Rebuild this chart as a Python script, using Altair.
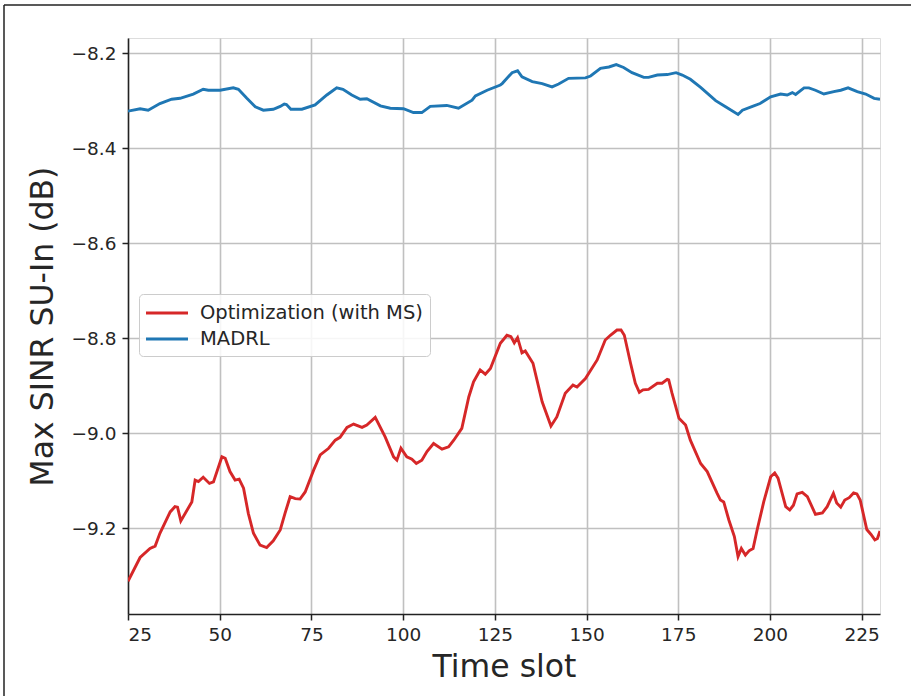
import altair as alt
import pandas as pd

# ---- data ----
opt_t = [25.0, 28.3, 31.0, 32.4, 33.7, 36.5, 37.8, 38.5, 39.4, 42.4, 43.3, 44.2, 45.5, 47.2,
         48.3, 50.6, 51.5, 52.8, 54.2, 55.3, 56.5, 57.8, 59.2, 61.0, 62.8, 64.6, 66.5, 67.8,
         69.2, 70.6, 71.9, 73.3, 75.6, 77.4, 79.7, 81.5, 82.8, 84.7, 86.5, 88.8, 90.1, 92.4,
         95.1, 97.4, 98.3, 99.4, 101.0, 102.4, 103.6, 105.1, 106.5, 108.3, 110.6, 112.4,
         113.8, 116.0, 117.9, 119.2, 121.0, 122.4, 123.8, 126.5, 128.3, 129.4, 130.3, 131.2,
         132.4, 133.3, 135.4, 137.9, 140.3, 141.9, 144.2, 146.3, 147.4, 149.7, 152.9, 155.1,
         156.5, 158.3, 159.4, 160.3, 162.0, 163.3, 164.4, 165.4, 166.9, 169.3, 170.6, 172.0,
         172.4, 173.3, 175.2, 177.0, 178.3, 181.1, 182.9, 185.6, 186.5, 187.4, 188.8, 190.3,
         191.3, 192.2, 193.3, 194.3, 195.4, 196.5, 198.3, 200.2, 201.3, 202.2, 204.3, 205.4,
         206.4, 207.4, 208.8, 210.2, 212.4, 214.3, 215.6, 217.3, 218.2, 219.3, 220.4, 221.6,
         222.8, 223.7, 224.6, 226.4, 227.5, 228.6, 229.3, 230.0]
opt_v = [-9.312, -9.262, -9.243, -9.238, -9.211, -9.166, -9.155, -9.156, -9.185, -9.145,
         -9.099, -9.102, -9.093, -9.106, -9.103, -9.050, -9.053, -9.081, -9.099, -9.097,
         -9.116, -9.169, -9.211, -9.236, -9.241, -9.227, -9.204, -9.169, -9.134, -9.138,
         -9.139, -9.124, -9.078, -9.046, -9.032, -9.015, -9.009, -8.988, -8.981, -8.988,
         -8.983, -8.967, -9.008, -9.050, -9.057, -9.032, -9.050, -9.055, -9.064, -9.057,
         -9.039, -9.022, -9.034, -9.029, -9.015, -8.990, -8.924, -8.892, -8.867, -8.876,
         -8.864, -8.811, -8.794, -8.797, -8.810, -8.799, -8.831, -8.827, -8.853, -8.934,
         -8.985, -8.966, -8.916, -8.899, -8.903, -8.885, -8.846, -8.804, -8.794, -8.783,
         -8.783, -8.794, -8.853, -8.895, -8.914, -8.909, -8.908, -8.895, -8.895, -8.887,
         -8.888, -8.916, -8.969, -8.983, -9.015, -9.064, -9.081, -9.127, -9.141, -9.145,
         -9.183, -9.218, -9.260, -9.243, -9.257, -9.248, -9.243, -9.204, -9.145, -9.092,
         -9.084, -9.095, -9.155, -9.162, -9.152, -9.128, -9.125, -9.134, -9.171, -9.168,
         -9.155, -9.127, -9.147, -9.156, -9.141, -9.136, -9.126, -9.128, -9.141, -9.203,
         -9.213, -9.225, -9.222, -9.206]

madrl_t = [25.0, 28.3, 30.5, 33.7, 36.9, 39.2, 42.8, 45.5, 46.9, 50.1, 53.7, 55.1, 57.4,
           59.7, 61.9, 64.6, 66.5, 67.6, 68.2, 69.4, 72.4, 76.0, 79.2, 81.9, 83.6, 86.0,
           88.3, 90.1, 93.8, 96.5, 100.1, 102.8, 105.1, 107.4, 111.9, 115.1, 118.8, 119.7,
           122.9, 126.5, 127.0, 129.7, 131.2, 132.4, 135.2, 137.9, 140.6, 142.4, 145.1,
           149.7, 151.1, 153.8, 156.1, 158.1, 160.1, 162.4, 165.6, 166.9, 169.3, 172.0,
           174.4, 176.1, 178.3, 181.1, 185.2, 187.9, 191.3, 192.5, 195.6, 197.3, 200.2,
           202.9, 204.7, 206.1, 207.0, 209.3, 210.6, 212.4, 214.7, 217.4, 219.3, 221.3,
           223.8, 226.1, 228.4, 230.0]
madrl_v = [-8.322, -8.317, -8.320, -8.306, -8.297, -8.295, -8.286, -8.276, -8.278, -8.278,
           -8.273, -8.276, -8.295, -8.313, -8.320, -8.318, -8.312, -8.307, -8.308, -8.318,
           -8.318, -8.309, -8.288, -8.273, -8.276, -8.288, -8.297, -8.296, -8.311, -8.316,
           -8.317, -8.325, -8.325, -8.312, -8.310, -8.316, -8.299, -8.290, -8.278, -8.267,
           -8.264, -8.241, -8.237, -8.250, -8.260, -8.264, -8.271, -8.265, -8.253, -8.252,
           -8.248, -8.232, -8.229, -8.224, -8.230, -8.241, -8.251, -8.251, -8.246, -8.245,
           -8.241, -8.246, -8.255, -8.272, -8.300, -8.313, -8.329, -8.320, -8.311, -8.306,
           -8.292, -8.286, -8.288, -8.283, -8.287, -8.273, -8.273, -8.278, -8.286, -8.281,
           -8.278, -8.273, -8.281, -8.286, -8.295, -8.297]

series_names = ["Optimization (with MS)", "MADRL"]
series_colors = ["#d62728", "#1f77b4"]
x_ticks = [25, 50, 75, 100, 125, 150, 175, 200, 225]
y_ticks = [-8.2, -8.4, -8.6, -8.8, -9.0, -9.2]
x_domain = [25, 230]
y_domain = [-9.381, -8.168]

df = pd.concat([
    pd.DataFrame({"t": opt_t, "v": opt_v, "series": series_names[0], "order": 0}),
    pd.DataFrame({"t": madrl_t, "v": madrl_v, "series": series_names[1], "order": 1}),
], ignore_index=True)

FONT = "DejaVu Sans"
TXT = "#262626"

lines = alt.Chart(df).mark_line(strokeWidth=2.9, clip=True).encode(
    x=alt.X("t:Q",
            scale=alt.Scale(domain=x_domain, nice=False, zero=False),
            axis=alt.Axis(values=x_ticks, title="Time slot", format="d",
                          titleFontSize=31.5, titleFont=FONT, titleColor=TXT,
                          titleFontWeight="normal", titlePadding=8,
                          labelFontSize=18.5, labelFont=FONT, labelColor=TXT,
                          labelPadding=5, tickSize=6, tickWidth=1.5, tickColor="#222",
                          domainColor="#222", domainWidth=1.5,
                          grid=True, gridColor="#c0c0c0", gridWidth=1.6)),
    y=alt.Y("v:Q",
            scale=alt.Scale(domain=y_domain, nice=False, zero=False),
            axis=alt.Axis(values=y_ticks, title="Max SINR SU-In (dB)",
                          labelExpr="replace(format(datum.value, '.1f'), '-', '\u2212')",
                          titleFontSize=31.5, titleFont=FONT, titleColor=TXT,
                          titleFontWeight="normal", titlePadding=12,
                          labelFontSize=18.5, labelFont=FONT, labelColor=TXT,
                          labelPadding=6, tickSize=6, tickWidth=1.5, tickColor="#222",
                          domainColor="#222", domainWidth=1.5,
                          grid=True, gridColor="#c0c0c0", gridWidth=1.6)),
    color=alt.Color("series:N",
                    scale=alt.Scale(domain=series_names, range=series_colors),
                    legend=alt.Legend(title=None, orient="none", legendX=11, legendY=256,
                                      symbolType="M-2,0H2", symbolSize=441,
                                      symbolStrokeWidth=2.9, symbolOffset=9,
                                      labelFontSize=19.5, labelFont=FONT, labelColor=TXT,
                                      labelLimit=0, labelOffset=21, rowPadding=4, padding=7,
                                      fillColor="rgba(255,255,255,0.85)",
                                      strokeColor="#cccccc", cornerRadius=4)),
    detail="order:N",
)

frame_df = pd.DataFrame({"k": [0]})
frame_left = alt.Chart(frame_df).mark_rule(color="#222", strokeWidth=1.5).encode(
    x=alt.value(-124), y=alt.value(-33), y2=alt.value(700))
frame_top = alt.Chart(frame_df).mark_rule(color="#222", strokeWidth=1.5).encode(
    y=alt.value(-33), x=alt.value(-124), x2=alt.value(820))

chart = alt.layer(lines, frame_left, frame_top).properties(
    width=752, height=576,
    autosize=alt.AutoSizeParams(type="none"),
    padding={"left": 128, "top": 38, "right": 31, "bottom": 82},
).configure_view(stroke="#222", strokeWidth=1.5).configure(background="white")

chart.save("out.html", embed_options={"renderer": "svg", "actions": False})
